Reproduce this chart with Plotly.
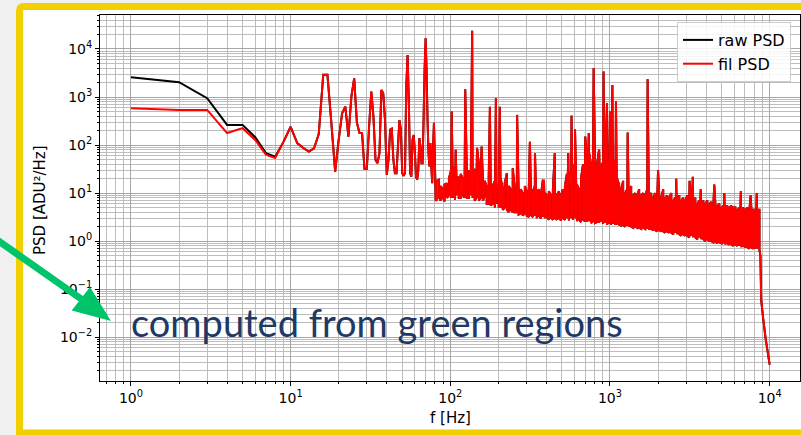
import plotly.graph_objects as go

# ---------------- data ----------------
f_low = list(range(1, 82))
fil_low = [585, 540, 540, 178, 225, 128, 63, 54, 115, 240,
           110, 87, 73, 85, 170, 2900, 2900, 280, 28, 130,
           460, 630, 150, 1020, 2450, 290, 178, 178, 32, 32,
           243, 1300, 390, 49, 42, 68, 1400, 1200, 330, 24,
           49, 210, 220, 49, 26, 26, 93, 330, 210, 26,
           23, 26, 1650, 7500, 740, 26, 22, 130, 162, 68,
           22, 19, 30, 140, 93, 42, 42, 330, 3650, 16600,
           3650, 330, 68, 36, 110, 36, 16, 93, 290, 49,
           7.2]
raw_first = [2570, 2040, 945, 263, 263, 146, 68, 57]

band_f = [82, 85, 87, 90, 92, 95, 98, 101, 104, 107,
          110, 113, 116, 120, 123, 127, 131, 134, 138, 142,
          146, 151, 155, 160, 164, 169, 174, 179, 184, 190,
          195, 201, 207, 213, 219, 226, 232, 239, 246, 253,
          261, 268, 276, 284, 293, 301, 310, 319, 329, 338,
          348, 358, 369, 380, 391, 402, 414, 426, 439, 452,
          465, 479, 493, 507, 522, 537, 553, 570, 586, 604,
          621, 640, 658, 678, 698, 718, 739, 761, 783, 806,
          830, 854, 879, 905, 932, 959, 987, 1016, 1046, 1077,
          1108, 1141, 1174, 1209, 1244, 1281, 1318, 1357, 1397, 1438,
          1480, 1523, 1568, 1614, 1661, 1710, 1760, 1812, 1865, 1920,
          1976, 2034, 2094, 2155, 2218, 2283, 2350, 2419, 2490, 2563,
          2638, 2716, 2795, 2877, 2962, 3049, 3138, 3230, 3325, 3422,
          3523, 3626, 3732, 3842, 3954, 4070, 4190, 4313, 4439, 4569,
          4703, 4841, 4983, 5129, 5280, 5434, 5594, 5758, 5927, 6100,
          6279, 6464, 6653, 6848, 7049, 7256, 7469, 7688, 7913, 8146,
          8384, 8630]
band_lo = [7, 8, 7, 8, 6.7, 8, 9, 8, 8, 7.2,
           9, 8, 8, 9, 8, 8, 8, 9, 8, 7,
           8, 7, 8, 7, 8.7, 6, 6, 5.5, 6, 5,
           6, 5, 5, 4.5, 5, 4.5, 4, 4.5, 4, 4,
           4, 3.6, 3.8, 3.4, 3.8, 3.4, 3.2, 3.5, 3.2, 3.4,
           3, 3.4, 3, 3.2, 3, 3.2, 2.8, 3.1, 2.8, 3,
           2.8, 3, 2.7, 3, 2.8, 3, 2.7, 3, 2.8, 3,
           2.6, 2.8, 2.5, 2.8, 2.6, 2.5, 2.6, 2.4, 2.6, 2.4,
           2.5, 2.4, 2.5, 2.3, 2.4, 2.3, 2.4, 2.2, 2.3, 2.2,
           2.2, 2.2, 2.1, 2.2, 2, 2.1, 2, 2, 1.9, 2,
           1.9, 1.9, 1.8, 1.9, 1.8, 1.8, 1.7, 1.8, 1.7, 1.7,
           1.6, 1.7, 1.6, 1.6, 1.5, 1.6, 1.5, 1.5, 1.4, 1.5,
           1.4, 1.4, 1.3, 1.4, 1.3, 1.3, 1.2, 1.3, 1.2, 1.2,
           1.1, 1.2, 1.1, 1.1, 1.0, 1.1, 1.0, 1.0, 0.95, 1.0,
           0.9, 0.95, 0.9, 0.9, 0.85, 0.9, 0.85, 0.85, 0.8, 0.85,
           0.8, 0.8, 0.75, 0.8, 0.75, 0.75, 0.7, 0.75, 0.7, 0.7,
           0.7, 0.65]
band_hi = [18, 19, 14, 12, 15, 16, 20, 30, 36, 19,
           19, 22, 25, 20, 24, 22, 30, 25, 20, 32,
           22, 40, 25, 20, 18, 14, 22, 16, 14, 18,
           15, 14, 20, 12, 16, 26, 14, 12, 33, 13,
           12, 10, 12, 10, 14, 11, 12, 16, 11, 14,
           10, 12, 9, 19, 10, 9, 11, 9, 12, 10,
           9, 11, 9, 12, 14, 25, 15, 30, 40, 25,
           15, 12, 20, 40, 60, 50, 70, 40, 60, 50,
           40, 80, 35, 45, 30, 60, 40, 35, 50, 30,
           20, 15, 12, 18, 10, 12, 10, 14, 9, 10,
           9, 12, 9, 10, 9, 12, 9, 10, 8, 10,
           8, 9, 8, 12, 8, 9, 8, 10, 7, 8,
           7, 9, 7, 8, 7, 9, 7, 8, 7, 8,
           6, 7, 6, 7, 6, 7, 6, 6.5, 5.5, 6,
           5.5, 6, 5, 5.5, 5, 5.5, 5, 5.5, 5, 5,
           4.5, 5, 4.5, 5, 4.5, 5, 4.5, 4.5, 4.5, 4.5,
           4.5, 4.5]
spike_f = [102, 108, 124, 137, 147, 157, 177, 193, 204, 262,
           315, 339, 386, 451, 548, 574, 604, 700, 736, 790,
           855, 911, 958, 1000, 1035, 1090, 1290, 1720, 2000, 2600,
           3150, 3300, 3700, 4500, 5200, 6600, 7600, 8300]
spike_p = [500, 80, 1450, 24000, 87, 93, 630, 940, 630, 425,
           117, 68, 19, 68, 68, 410, 210, 150, 178, 4000,
           80, 3380, 750, 500, 1780, 810, 183, 2350, 30, 20,
           18, 22, 12, 15, 10, 11, 9, 10]
tail_f = [8750, 8850, 9100, 9450, 10000]
tail_p = [0.5, 0.06, 0.025, 0.009, 0.0027]

x_ticks = [1, 10, 100, 1000, 10000]
x_ticktext = ["10<sup>0</sup>", "10<sup>1</sup>", "10<sup>2</sup>", "10<sup>3</sup>", "10<sup>4</sup>"]
y_ticks = [1e-2, 1e-1, 1, 10, 100, 1000, 10000]
y_ticktext = ["10<sup>\u22122</sup>", "10<sup>\u22121</sup>", "10<sup>0</sup>", "10<sup>1</sup>",
              "10<sup>2</sup>", "10<sup>3</sup>", "10<sup>4</sup>"]

# ---------------- build series ----------------
pts = [(f, 0, p) for f, p in zip(f_low, fil_low)]
for k, (f, lo, hi) in enumerate(zip(band_f, band_lo, band_hi)):
    if k % 2 == 0:
        pts.append((f, 1, lo))
        pts.append((f, 2, hi))
    else:
        pts.append((f, 1, hi))
        pts.append((f, 2, lo))
for f, p in zip(spike_f, spike_p):
    pts.append((f, 3, p))
pts.sort(key=lambda t: (t[0], t[1]))
fil_x = [t[0] for t in pts] + tail_f
fil_y = [t[2] for t in pts] + tail_p

raw_x = fil_x
raw_y = raw_first + fil_y[len(raw_first):]

# ---------------- figure ----------------
W, H = 801, 435
L, R, T, B = 100, 1, 15, 54
PW, PH = W - L - R, H - T - B


def X(px):
    return (px - L) / PW


def Y(py):
    return (H - B - py) / PH


fig = go.Figure()
fig.add_trace(go.Scatter(x=raw_x, y=raw_y, mode="lines", name="raw PSD",
                         line=dict(color="#000000", width=2.0, simplify=False)))
fig.add_trace(go.Scatter(x=fil_x, y=fil_y, mode="lines", name="fil PSD",
                         line=dict(color="#ff0000", width=2.0, simplify=False)))

minor_x = [m * 10 ** d for d in range(-1, 5) for m in range(2, 10)]
minor_y = [m * 10 ** d for d in range(-3, 5) for m in range(2, 10)]

axis_common = dict(type="log", showline=True, linecolor="black", linewidth=1, mirror=True,
                   ticks="outside", ticklen=4, tickcolor="black", tickwidth=1,
                   showgrid=True, gridcolor="#a6a6a6", gridwidth=1, zeroline=False,
                   tickfont=dict(family="DejaVu Sans", size=14, color="black"))

fig.update_xaxes(range=[-0.194, 4.19], tickmode="array", tickvals=x_ticks, ticktext=x_ticktext,
                 minor=dict(tickmode="array", tickvals=minor_x, ticks="outside", ticklen=2,
                            tickcolor="black", showgrid=True, gridcolor="#bdbdbd", gridwidth=0.8),
                 **axis_common)
fig.update_yaxes(range=[-2.91, 4.707], tickmode="array", tickvals=y_ticks, ticktext=y_ticktext,
                 minor=dict(tickmode="array", tickvals=minor_y, ticks="outside", ticklen=2,
                            tickcolor="black", showgrid=True, gridcolor="#bdbdbd", gridwidth=0.8),
                 **axis_common)

yellow = "#f2d000"
green = "#00c46a"


def pt(px, py):
    return f"{X(px):.5f},{Y(py):.5f}"


frame_path = ("M " + pt(19.5, 433) + " L " + pt(19.5, 11) + " Q " + pt(19.5, 6.5) + " " + pt(24, 6.5)
              + " L " + pt(815, 6.5) + " L " + pt(815, 433) + " Z")
head_path = "M " + pt(71.7, 310.5) + " L " + pt(90, 287) + " L " + pt(111, 321) + " Z"

fig.update_layout(
    width=W, height=H,
    margin=dict(l=L, r=R, t=T, b=B, pad=0),
    paper_bgcolor="#f0f0f0",
    plot_bgcolor="white",
    font=dict(family="DejaVu Sans", size=14, color="black"),
    showlegend=True,
    legend=dict(x=X(791), y=Y(22), xanchor="right", yanchor="top",
                bgcolor="rgba(255,255,255,0.85)", bordercolor="#cccccc", borderwidth=1,
                font=dict(family="DejaVu Sans", size=16, color="black"),
                tracegroupgap=0, itemwidth=30),
    shapes=[
        dict(type="path", xref="paper", yref="paper", path=frame_path,
             fillcolor="white", line=dict(color=yellow, width=7), layer="below"),
        dict(type="line", xref="paper", yref="paper",
             x0=X(-5), y0=Y(238.5), x1=X(82), y1=Y(299.5),
             line=dict(color=green, width=7), layer="above"),
        dict(type="path", xref="paper", yref="paper", path=head_path,
             fillcolor=green, line=dict(color=green, width=0), layer="above"),
    ],
    annotations=[
        dict(text="computed from green regions", xref="paper", yref="paper",
             x=X(129), y=Y(322), xanchor="left", yanchor="middle", showarrow=False,
             font=dict(family="Lato", size=38, color="#203864")),
        dict(text="PSD [ADU\u00b2/Hz]", xref="paper", yref="paper", x=X(40), y=Y(200),
             xanchor="center", yanchor="middle", textangle=-90, showarrow=False,
             font=dict(family="DejaVu Sans", size=15, color="black")),
        dict(text="f [Hz]", xref="paper", yref="paper", x=X(450), y=Y(418),
             xanchor="center", yanchor="middle", showarrow=False,
             font=dict(family="DejaVu Sans", size=15, color="black")),
    ],
)

fig.write_html("out.html")
